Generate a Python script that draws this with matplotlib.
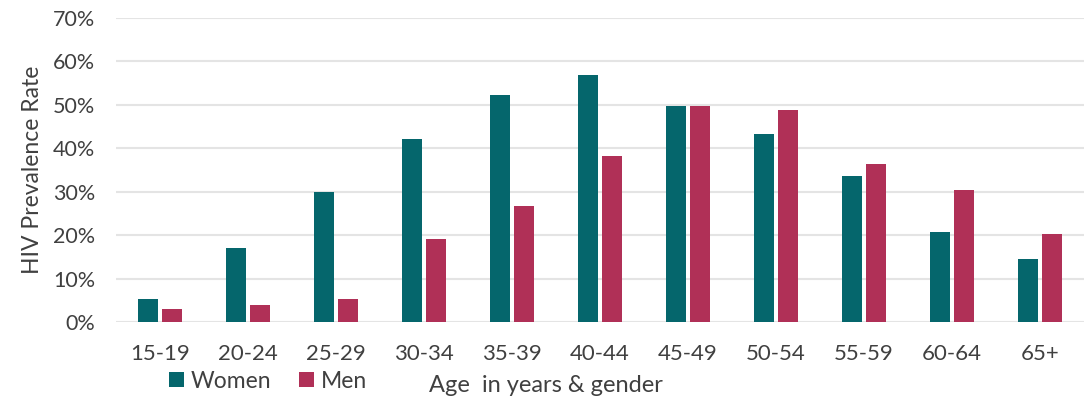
import matplotlib
matplotlib.use("Agg")
import matplotlib.pyplot as plt
import numpy as np
from matplotlib.ticker import PercentFormatter

# values (percent)
age_groups = ["15-19", "20-24", "25-29", "30-34", "35-39", "40-44",
              "45-49", "50-54", "55-59", "60-64", "65+"]
women = [5.3, 17.1, 29.9, 42.2, 52.3, 56.9, 49.6, 43.2, 33.6, 20.8, 14.4]
men = [3.0, 3.9, 5.3, 19.0, 26.7, 38.1, 49.6, 48.7, 36.4, 30.4, 20.3]

teal = "#05666C"
crimson = "#B03057"
text_col = "#404040"
grid_col = "#E4E4E4"

plt.rcParams["font.family"] = ["Lato", "DejaVu Sans"]

fig = plt.figure(figsize=(10.89, 3.98), dpi=100)
ax = fig.add_axes([116 / 1089, 1 - 322 / 398, 968 / 1089, (322 - 17.7) / 398])

x = np.arange(len(age_groups))
w = 0.225
ax.bar(x - 0.14, women, width=w, color=teal, label="Women", zorder=3)
ax.bar(x + 0.14, men, width=w, color=crimson, label="Men", zorder=3)

ax.set_xlim(-0.5, len(age_groups) - 0.5)
ax.set_ylim(0, 70)
ax.set_yticks(np.arange(0, 71, 10))
ax.yaxis.set_major_formatter(PercentFormatter(decimals=0))
ax.set_xticks(x)
ax.set_xticklabels(age_groups)

ax.grid(axis="y", color=grid_col, linewidth=1.5, zorder=0)
ax.set_axisbelow(True)
for side in ["top", "right", "left", "bottom"]:
    ax.spines[side].set_visible(False)
ax.tick_params(axis="x", length=0, labelsize=16, colors=text_col, pad=16)
ax.tick_params(axis="y", length=0, labelsize=15.5, colors=text_col, pad=15)

ax.set_ylabel("HIV Prevalence Rate", fontsize=16.5, color=text_col, labelpad=7)

fig.text(546 / 1089, 1 - 386 / 398, "Age  in years & gender", fontsize=17,
         color=text_col, ha="center", va="center")

leg = fig.legend(loc="center left", bbox_to_anchor=(169 / 1089, 1 - 381 / 398),
                 ncol=2, frameon=False, fontsize=16.5, handlelength=0.65,
                 handleheight=0.65, handletextpad=0.3, columnspacing=1.2,
                 borderaxespad=0, borderpad=0)
for t in leg.get_texts():
    t.set_color(text_col)

fig.savefig("out.png", dpi=100)
